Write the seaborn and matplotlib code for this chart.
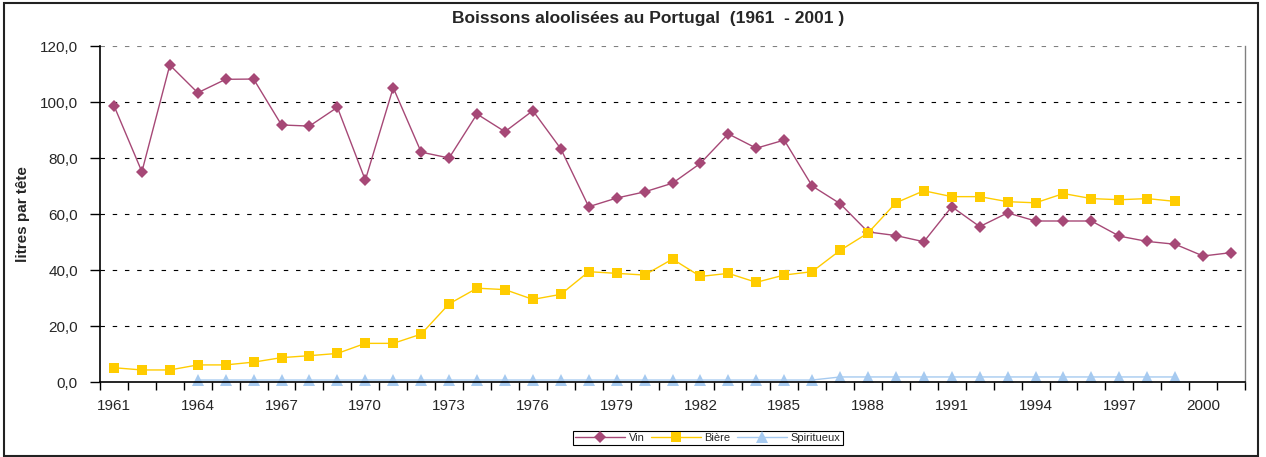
import pandas as pd
import matplotlib.pyplot as plt
import matplotlib.patches as patches
import seaborn as sns

# données (litres par tête)
annees = list(range(1961, 2002))
vin = [98.7, 75.1, 113.2, 103.3, 108.1, 108.2, 91.8, 91.4, 98.1, 72.1,
       105.1, 82.1, 80.0, 95.7, 89.4, 96.9, 83.3, 62.6, 65.7, 67.9,
       71.0, 78.1, 88.6, 83.5, 86.4, 70.0, 63.7, 53.6, 52.3, 50.1,
       62.6, 55.5, 60.4, 57.5, 57.5, 57.5, 52.1, 50.2, 49.2, 45.0, 46.2]
annees_biere = list(range(1961, 2000))
biere = [5.1, 4.3, 4.3, 6.1, 6.1, 7.1, 8.7, 9.4, 10.2, 13.8,
         13.8, 17.1, 27.9, 33.5, 33.0, 29.5, 31.3, 39.4, 38.8, 38.2,
         43.9, 37.7, 38.8, 35.6, 38.2, 39.4, 47.0, 53.2, 64.0, 68.3,
         66.2, 66.2, 64.4, 64.0, 67.3, 65.5, 65.1, 65.5, 64.5]
annees_spiritueux = list(range(1964, 2000))
spiritueux = [0.7] * 23 + [1.8] * 13

x_labels = list(range(1961, 2001, 3))


def make_df():
    """met les trois series dans une seule table longue pour seaborn"""
    df_vin = pd.DataFrame({'annee': annees, 'litres': vin, 'boisson': 'Vin'})
    df_biere = pd.DataFrame({'annee': annees_biere, 'litres': biere, 'boisson': 'Bière'})
    df_spir = pd.DataFrame({'annee': annees_spiritueux, 'litres': spiritueux, 'boisson': 'Spiritueux'})
    return pd.concat([df_vin, df_biere, df_spir], ignore_index=True)


df = make_df()

sns.set_style('white')
plt.rcParams['font.family'] = ['Liberation Sans', 'DejaVu Sans']

fig = plt.figure(figsize=(12.66, 4.57), dpi=100)
ax = fig.add_axes([100 / 1266, 1 - 382 / 457, 1145 / 1266, 336 / 457])

couleurs = {'Vin': '#A64876', 'Bière': '#FFCC00', 'Spiritueux': '#A6CAF0'}
marqueurs = {'Vin': 'D', 'Bière': 's', 'Spiritueux': '^'}
sns.lineplot(data=df, x='annee', y='litres', hue='boisson', style='boisson',
             palette=couleurs, markers=marqueurs, dashes=False,
             linewidth=1.0, markersize=6.5, markeredgewidth=0, ax=ax)
# les triangles paraissent plus petits, on les grossit un peu
for line in ax.lines:
    if line.get_marker() == '^':
        line.set_markersize(8)
        line.set_clip_on(False)

ax.set_xlim(1960.5, 2001.5)
ax.set_ylim(0, 120)
ax.set_yticks(range(0, 121, 20))
ax.set_yticklabels([f'{v:.1f}'.replace('.', ',') for v in range(0, 121, 20)], fontsize=11)
ax.set_xticks(x_labels)
ax.set_xticklabels([str(a) for a in x_labels], fontsize=11)
ax.set_xticks([a + 0.5 for a in range(1960, 2002)], minor=True)
ax.tick_params(axis='x', which='major', length=0, pad=12)
ax.tick_params(axis='x', which='minor', direction='out', length=6, width=1, color='black', bottom=True)
ax.tick_params(axis='y', direction='out', length=7, width=1, color='black', left=True, pad=9)

# lignes de quadrillage pointillees
ax.grid(axis='y', color='black', linestyle=(0, (4, 7)), linewidth=0.8)
ax.get_ygridlines()[-1].set_color('gray')
ax.get_ygridlines()[0].set_visible(False)

for s in ['left', 'bottom']:
    ax.spines[s].set_color('black')
    ax.spines[s].set_linewidth(1.2)
ax.spines['right'].set_color('gray')
ax.spines['right'].set_linewidth(1)
ax.spines['top'].set_visible(False)

ax.set_xlabel('')
ax.set_ylabel('litres par tête', fontsize=11, fontweight='bold', labelpad=7)

fig.text(648 / 1266, 1 - 19 / 457, 'Boissons aloolisées au Portugal  (1961  - 2001 )',
         ha='center', va='center', fontsize=12.5, fontweight='bold')

handles, labels = ax.get_legend_handles_labels()
ax.legend_.remove()
leg = fig.legend(handles, labels, loc='center', bbox_to_anchor=(708 / 1266, 1 - 438 / 457),
                 ncol=3, fontsize=8, frameon=True, fancybox=False, edgecolor='black',
                 framealpha=1, handlelength=4.5, borderpad=0.2, columnspacing=0.6, handletextpad=0.3)
leg.get_frame().set_linewidth(0.8)

# cadre autour de tout le graphique
fig.patches.append(patches.Rectangle((4 / 1266, 1 / 457), 1254 / 1266, 453 / 457,
                                     transform=fig.transFigure, fill=False,
                                     linewidth=1.5, edgecolor='#222222'))

fig.savefig('out.png', dpi=100)
